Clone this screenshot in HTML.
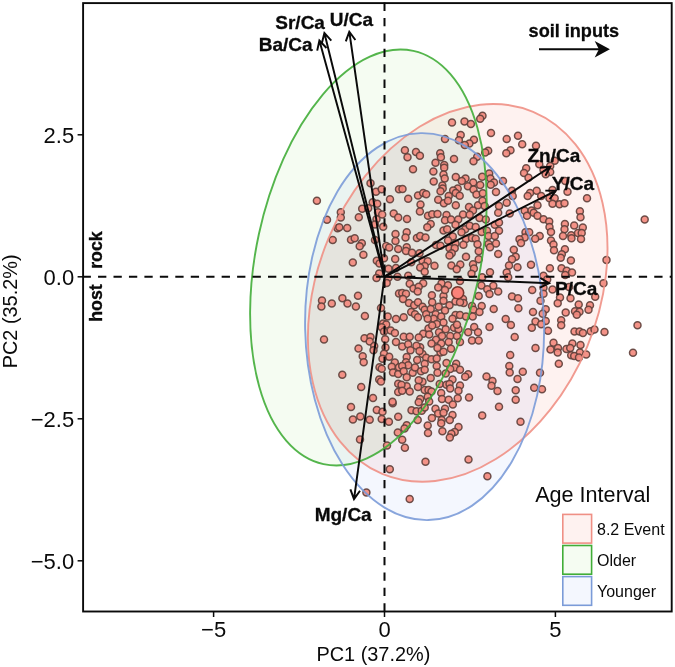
<!DOCTYPE html>
<html lang="en"><head><meta charset="utf-8"><title>PCA biplot</title>
<style>html,body{margin:0;padding:0;background:#fff}body{width:675px;height:667px;overflow:hidden}svg{display:block}text{font-family:"Liberation Sans",Arial,Helvetica,sans-serif;fill:#0a0a0a}.b{font-weight:bold;font-size:19px;stroke:#0a0a0a;stroke-width:0.3px}.t{font-size:22px}.a{font-size:19.9px}.l{font-size:16px}</style></head><body>
<svg width="675" height="667" viewBox="0 0 675 667">
<rect width="675" height="667" fill="#fff"/>
<g>
<ellipse cx="457.7" cy="292.9" rx="196.1" ry="140.2" transform="rotate(112.62 457.7 292.9)" fill="rgba(248,118,95,0.095)" stroke="none"/>
<ellipse cx="368.4" cy="257.5" rx="211.4" ry="112.0" transform="rotate(102.26 368.4 257.5)" fill="rgba(112,208,62,0.065)" stroke="none"/>
<ellipse cx="424.6" cy="326.6" rx="193.5" ry="119.5" transform="rotate(88.87 424.6 326.6)" fill="rgba(100,135,240,0.07)" stroke="none"/>
</g>
<defs><clipPath id="cg"><ellipse cx="368.4" cy="257.5" rx="211.4" ry="112.0" transform="rotate(102.26 368.4 257.5)" /></clipPath><clipPath id="cb" clip-path="url(#cg)"><ellipse cx="424.6" cy="326.6" rx="193.5" ry="119.5" transform="rotate(88.87 424.6 326.6)" /></clipPath></defs>
<g clip-path="url(#cb)"><ellipse cx="457.7" cy="292.9" rx="196.1" ry="140.2" transform="rotate(112.62 457.7 292.9)" fill="rgba(130,140,90,0.035)"/></g>
<g fill="#f38a7e" fill-opacity="0.92" stroke="#5e3f3a" stroke-opacity="0.9" stroke-width="1.5">
<circle cx="316.9" cy="200.7" r="3.5"/>
<circle cx="327.0" cy="219.7" r="3.5"/>
<circle cx="340.8" cy="212.2" r="3.5"/>
<circle cx="340.8" cy="217.5" r="3.5"/>
<circle cx="337.5" cy="228.3" r="3.5"/>
<circle cx="339.3" cy="227.2" r="3.5"/>
<circle cx="347.2" cy="228.0" r="3.5"/>
<circle cx="332.7" cy="240.1" r="3.5"/>
<circle cx="351.0" cy="239.7" r="3.5"/>
<circle cx="354.7" cy="238.2" r="3.5"/>
<circle cx="361.8" cy="243.3" r="3.5"/>
<circle cx="359.7" cy="246.3" r="3.5"/>
<circle cx="358.8" cy="217.2" r="3.5"/>
<circle cx="362.2" cy="208.8" r="3.5"/>
<circle cx="368.2" cy="208.2" r="3.5"/>
<circle cx="370.5" cy="183.3" r="3.5"/>
<circle cx="376.0" cy="191.7" r="3.5"/>
<circle cx="381.7" cy="189.3" r="3.5"/>
<circle cx="372.7" cy="202.2" r="3.5"/>
<circle cx="377.2" cy="203.7" r="3.5"/>
<circle cx="390.0" cy="199.2" r="3.5"/>
<circle cx="378.0" cy="212.2" r="3.5"/>
<circle cx="382.2" cy="214.5" r="3.5"/>
<circle cx="393.7" cy="213.4" r="3.5"/>
<circle cx="398.2" cy="217.5" r="3.5"/>
<circle cx="376.5" cy="219.3" r="3.5"/>
<circle cx="375.0" cy="224.5" r="3.5"/>
<circle cx="383.2" cy="226.8" r="3.5"/>
<circle cx="395.5" cy="234.0" r="3.5"/>
<circle cx="395.5" cy="241.0" r="3.5"/>
<circle cx="375.0" cy="240.0" r="3.5"/>
<circle cx="386.2" cy="246.0" r="3.5"/>
<circle cx="389.2" cy="247.5" r="3.5"/>
<circle cx="399.0" cy="189.3" r="3.5"/>
<circle cx="398.2" cy="249.0" r="3.5"/>
<circle cx="363.4" cy="254.8" r="3.5"/>
<circle cx="352.8" cy="262.4" r="3.5"/>
<circle cx="376.8" cy="260.8" r="3.5"/>
<circle cx="384.0" cy="258.2" r="3.5"/>
<circle cx="395.2" cy="259.0" r="3.5"/>
<circle cx="379.5" cy="263.5" r="3.5"/>
<circle cx="388.5" cy="268.7" r="3.5"/>
<circle cx="396.0" cy="268.0" r="3.5"/>
<circle cx="379.2" cy="273.5" r="3.5"/>
<circle cx="376.5" cy="278.0" r="3.5"/>
<circle cx="388.5" cy="277.7" r="3.5"/>
<circle cx="397.5" cy="276.7" r="3.5"/>
<circle cx="386.7" cy="283.0" r="3.5"/>
<circle cx="399.0" cy="293.5" r="3.5"/>
<circle cx="322.0" cy="300.5" r="3.5"/>
<circle cx="321.4" cy="306.5" r="3.5"/>
<circle cx="331.8" cy="303.5" r="3.5"/>
<circle cx="342.4" cy="298.3" r="3.5"/>
<circle cx="347.5" cy="303.5" r="3.5"/>
<circle cx="358.0" cy="295.7" r="3.5"/>
<circle cx="355.9" cy="306.5" r="3.5"/>
<circle cx="364.9" cy="316.0" r="3.5"/>
<circle cx="381.0" cy="308.0" r="3.5"/>
<circle cx="387.7" cy="316.4" r="3.5"/>
<circle cx="396.0" cy="319.0" r="3.5"/>
<circle cx="383.2" cy="323.5" r="3.5"/>
<circle cx="386.2" cy="324.5" r="3.5"/>
<circle cx="381.7" cy="327.2" r="3.5"/>
<circle cx="384.0" cy="331.4" r="3.5"/>
<circle cx="390.7" cy="330.5" r="3.5"/>
<circle cx="394.9" cy="332.9" r="3.5"/>
<circle cx="324.0" cy="339.5" r="3.5"/>
<circle cx="364.5" cy="338.2" r="3.5"/>
<circle cx="370.5" cy="337.0" r="3.5"/>
<circle cx="369.7" cy="341.5" r="3.5"/>
<circle cx="385.2" cy="339.2" r="3.5"/>
<circle cx="396.0" cy="341.9" r="3.5"/>
<circle cx="358.5" cy="348.5" r="3.5"/>
<circle cx="374.2" cy="346.0" r="3.5"/>
<circle cx="385.5" cy="347.5" r="3.5"/>
<circle cx="373.5" cy="350.3" r="3.5"/>
<circle cx="362.7" cy="356.3" r="3.5"/>
<circle cx="363.7" cy="362.3" r="3.5"/>
<circle cx="384.0" cy="353.7" r="3.5"/>
<circle cx="389.2" cy="356.7" r="3.5"/>
<circle cx="382.5" cy="358.7" r="3.5"/>
<circle cx="394.8" cy="362.4" r="3.5"/>
<circle cx="379.5" cy="367.2" r="3.5"/>
<circle cx="381.7" cy="368.7" r="3.5"/>
<circle cx="391.8" cy="366.8" r="3.5"/>
<circle cx="393.0" cy="372.5" r="3.5"/>
<circle cx="398.2" cy="374.0" r="3.5"/>
<circle cx="399.0" cy="367.2" r="3.5"/>
<circle cx="342.3" cy="374.7" r="3.5"/>
<circle cx="379.2" cy="379.5" r="3.5"/>
<circle cx="381.0" cy="381.5" r="3.5"/>
<circle cx="361.2" cy="387.0" r="3.5"/>
<circle cx="398.2" cy="383.7" r="3.5"/>
<circle cx="398.2" cy="392.0" r="3.5"/>
<circle cx="373.0" cy="398.0" r="3.5"/>
<circle cx="392.7" cy="403.2" r="3.5"/>
<circle cx="392.5" cy="401.7" r="3.5"/>
<circle cx="351.0" cy="407.0" r="3.5"/>
<circle cx="376.8" cy="410.0" r="3.5"/>
<circle cx="382.5" cy="411.8" r="3.5"/>
<circle cx="352.9" cy="419.4" r="3.5"/>
<circle cx="360.3" cy="416.4" r="3.5"/>
<circle cx="369.7" cy="419.7" r="3.5"/>
<circle cx="381.7" cy="419.0" r="3.5"/>
<circle cx="388.9" cy="421.7" r="3.5"/>
<circle cx="398.2" cy="416.7" r="3.5"/>
<circle cx="360.0" cy="439.5" r="3.5"/>
<circle cx="387.0" cy="445.5" r="3.5"/>
<circle cx="397.8" cy="432.5" r="3.5"/>
<circle cx="389.8" cy="469.3" r="3.5"/>
<circle cx="366.4" cy="492.4" r="3.5"/>
<circle cx="482.5" cy="115.7" r="3.5"/>
<circle cx="480.2" cy="118.7" r="3.5"/>
<circle cx="452.0" cy="122.5" r="3.5"/>
<circle cx="464.5" cy="121.4" r="3.5"/>
<circle cx="470.9" cy="124.0" r="3.5"/>
<circle cx="491.0" cy="133.0" r="3.5"/>
<circle cx="460.7" cy="134.9" r="3.5"/>
<circle cx="458.9" cy="140.2" r="3.5"/>
<circle cx="445.0" cy="139.0" r="3.5"/>
<circle cx="473.9" cy="139.7" r="3.5"/>
<circle cx="469.4" cy="143.5" r="3.5"/>
<circle cx="464.8" cy="145.0" r="3.5"/>
<circle cx="488.2" cy="150.7" r="3.5"/>
<circle cx="485.2" cy="152.5" r="3.5"/>
<circle cx="404.9" cy="150.2" r="3.5"/>
<circle cx="416.0" cy="152.0" r="3.5"/>
<circle cx="419.9" cy="155.8" r="3.5"/>
<circle cx="407.5" cy="157.3" r="3.5"/>
<circle cx="440.2" cy="153.2" r="3.5"/>
<circle cx="440.9" cy="157.3" r="3.5"/>
<circle cx="454.0" cy="158.9" r="3.5"/>
<circle cx="477.2" cy="156.7" r="3.5"/>
<circle cx="473.5" cy="161.2" r="3.5"/>
<circle cx="435.5" cy="162.7" r="3.5"/>
<circle cx="444.2" cy="164.9" r="3.5"/>
<circle cx="444.2" cy="167.8" r="3.5"/>
<circle cx="413.0" cy="169.3" r="3.5"/>
<circle cx="433.4" cy="171.5" r="3.5"/>
<circle cx="443.5" cy="174.5" r="3.5"/>
<circle cx="444.7" cy="178.4" r="3.5"/>
<circle cx="455.8" cy="176.9" r="3.5"/>
<circle cx="465.5" cy="178.4" r="3.5"/>
<circle cx="461.8" cy="181.0" r="3.5"/>
<circle cx="433.7" cy="181.4" r="3.5"/>
<circle cx="489.2" cy="173.5" r="3.5"/>
<circle cx="482.2" cy="176.8" r="3.5"/>
<circle cx="490.4" cy="178.4" r="3.5"/>
<circle cx="494.0" cy="182.5" r="3.5"/>
<circle cx="490.7" cy="184.7" r="3.5"/>
<circle cx="473.2" cy="182.5" r="3.5"/>
<circle cx="480.2" cy="185.0" r="3.5"/>
<circle cx="467.9" cy="186.2" r="3.5"/>
<circle cx="442.4" cy="185.5" r="3.5"/>
<circle cx="442.7" cy="188.5" r="3.5"/>
<circle cx="440.5" cy="191.2" r="3.5"/>
<circle cx="402.5" cy="188.9" r="3.5"/>
<circle cx="457.7" cy="188.5" r="3.5"/>
<circle cx="453.2" cy="190.4" r="3.5"/>
<circle cx="455.8" cy="193.0" r="3.5"/>
<circle cx="473.5" cy="189.5" r="3.5"/>
<circle cx="476.5" cy="194.5" r="3.5"/>
<circle cx="482.8" cy="193.3" r="3.5"/>
<circle cx="496.0" cy="191.9" r="3.5"/>
<circle cx="418.0" cy="195.5" r="3.5"/>
<circle cx="423.2" cy="193.0" r="3.5"/>
<circle cx="426.2" cy="194.2" r="3.5"/>
<circle cx="448.7" cy="196.0" r="3.5"/>
<circle cx="459.7" cy="195.7" r="3.5"/>
<circle cx="408.2" cy="198.7" r="3.5"/>
<circle cx="438.2" cy="199.7" r="3.5"/>
<circle cx="420.5" cy="204.5" r="3.5"/>
<circle cx="443.9" cy="203.3" r="3.5"/>
<circle cx="455.8" cy="205.2" r="3.5"/>
<circle cx="469.0" cy="207.0" r="3.5"/>
<circle cx="478.0" cy="205.2" r="3.5"/>
<circle cx="482.5" cy="200.7" r="3.5"/>
<circle cx="484.7" cy="206.0" r="3.5"/>
<circle cx="448.0" cy="200.7" r="3.5"/>
<circle cx="419.9" cy="211.5" r="3.5"/>
<circle cx="428.0" cy="215.7" r="3.5"/>
<circle cx="432.2" cy="214.2" r="3.5"/>
<circle cx="437.5" cy="213.9" r="3.5"/>
<circle cx="446.5" cy="215.0" r="3.5"/>
<circle cx="463.0" cy="214.5" r="3.5"/>
<circle cx="473.0" cy="210.5" r="3.5"/>
<circle cx="469.7" cy="214.7" r="3.5"/>
<circle cx="498.2" cy="212.7" r="3.5"/>
<circle cx="499.0" cy="206.0" r="3.5"/>
<circle cx="407.0" cy="219.0" r="3.5"/>
<circle cx="445.0" cy="220.2" r="3.5"/>
<circle cx="451.0" cy="219.5" r="3.5"/>
<circle cx="458.2" cy="219.5" r="3.5"/>
<circle cx="479.5" cy="218.0" r="3.5"/>
<circle cx="485.8" cy="219.5" r="3.5"/>
<circle cx="430.7" cy="224.0" r="3.5"/>
<circle cx="427.3" cy="227.3" r="3.5"/>
<circle cx="455.5" cy="224.7" r="3.5"/>
<circle cx="465.2" cy="229.2" r="3.5"/>
<circle cx="469.7" cy="225.8" r="3.5"/>
<circle cx="475.7" cy="227.0" r="3.5"/>
<circle cx="494.8" cy="224.7" r="3.5"/>
<circle cx="499.0" cy="222.5" r="3.5"/>
<circle cx="443.5" cy="230.4" r="3.5"/>
<circle cx="447.2" cy="229.2" r="3.5"/>
<circle cx="461.5" cy="232.2" r="3.5"/>
<circle cx="481.7" cy="231.9" r="3.5"/>
<circle cx="487.0" cy="230.7" r="3.5"/>
<circle cx="499.0" cy="230.7" r="3.5"/>
<circle cx="406.7" cy="232.2" r="3.5"/>
<circle cx="405.5" cy="237.5" r="3.5"/>
<circle cx="416.9" cy="237.9" r="3.5"/>
<circle cx="420.2" cy="236.0" r="3.5"/>
<circle cx="425.5" cy="237.5" r="3.5"/>
<circle cx="452.8" cy="236.4" r="3.5"/>
<circle cx="448.0" cy="240.5" r="3.5"/>
<circle cx="466.0" cy="239.0" r="3.5"/>
<circle cx="472.0" cy="237.9" r="3.5"/>
<circle cx="475.7" cy="238.7" r="3.5"/>
<circle cx="488.5" cy="236.0" r="3.5"/>
<circle cx="494.8" cy="236.0" r="3.5"/>
<circle cx="436.0" cy="245.0" r="3.5"/>
<circle cx="440.5" cy="245.7" r="3.5"/>
<circle cx="455.5" cy="243.5" r="3.5"/>
<circle cx="463.4" cy="244.7" r="3.5"/>
<circle cx="477.5" cy="244.2" r="3.5"/>
<circle cx="488.5" cy="243.9" r="3.5"/>
<circle cx="496.0" cy="243.5" r="3.5"/>
<circle cx="490.0" cy="247.2" r="3.5"/>
<circle cx="406.7" cy="247.2" r="3.5"/>
<circle cx="406.0" cy="251.0" r="3.5"/>
<circle cx="412.0" cy="252.8" r="3.5"/>
<circle cx="419.5" cy="253.2" r="3.5"/>
<circle cx="449.5" cy="248.3" r="3.5"/>
<circle cx="454.7" cy="248.3" r="3.5"/>
<circle cx="451.7" cy="253.2" r="3.5"/>
<circle cx="449.5" cy="255.5" r="3.5"/>
<circle cx="478.7" cy="251.3" r="3.5"/>
<circle cx="498.2" cy="254.0" r="3.5"/>
<circle cx="466.0" cy="256.7" r="3.5"/>
<circle cx="478.7" cy="259.2" r="3.5"/>
<circle cx="422.5" cy="260.7" r="3.5"/>
<circle cx="427.7" cy="261.2" r="3.5"/>
<circle cx="411.2" cy="262.2" r="3.5"/>
<circle cx="451.4" cy="265.5" r="3.5"/>
<circle cx="460.3" cy="264.5" r="3.5"/>
<circle cx="473.0" cy="264.2" r="3.5"/>
<circle cx="456.7" cy="269.3" r="3.5"/>
<circle cx="473.9" cy="268.5" r="3.5"/>
<circle cx="434.5" cy="265.7" r="3.5"/>
<circle cx="424.7" cy="266.0" r="3.5"/>
<circle cx="420.2" cy="267.5" r="3.5"/>
<circle cx="424.7" cy="271.7" r="3.5"/>
<circle cx="408.2" cy="275.7" r="3.5"/>
<circle cx="490.0" cy="272.3" r="3.5"/>
<circle cx="471.5" cy="273.8" r="3.5"/>
<circle cx="482.2" cy="277.2" r="3.5"/>
<circle cx="423.2" cy="283.2" r="3.5"/>
<circle cx="409.7" cy="283.7" r="3.5"/>
<circle cx="413.5" cy="288.5" r="3.5"/>
<circle cx="418.7" cy="286.7" r="3.5"/>
<circle cx="441.5" cy="283.2" r="3.5"/>
<circle cx="448.0" cy="285.2" r="3.5"/>
<circle cx="460.0" cy="281.0" r="3.5"/>
<circle cx="438.2" cy="287.4" r="3.5"/>
<circle cx="481.4" cy="285.5" r="3.5"/>
<circle cx="493.3" cy="285.8" r="3.5"/>
<circle cx="487.3" cy="289.2" r="3.5"/>
<circle cx="402.2" cy="293.0" r="3.5"/>
<circle cx="406.0" cy="293.7" r="3.5"/>
<circle cx="417.7" cy="291.5" r="3.5"/>
<circle cx="431.9" cy="295.2" r="3.5"/>
<circle cx="443.5" cy="296.0" r="3.5"/>
<circle cx="445.0" cy="290.0" r="3.5"/>
<circle cx="478.7" cy="296.0" r="3.5"/>
<circle cx="489.5" cy="294.0" r="3.5"/>
<circle cx="498.2" cy="291.5" r="3.5"/>
<circle cx="403.0" cy="299.0" r="3.5"/>
<circle cx="463.0" cy="299.0" r="3.5"/>
<circle cx="409.0" cy="303.0" r="3.5"/>
<circle cx="414.2" cy="305.2" r="3.5"/>
<circle cx="418.0" cy="302.2" r="3.5"/>
<circle cx="422.5" cy="306.7" r="3.5"/>
<circle cx="424.7" cy="309.7" r="3.5"/>
<circle cx="432.2" cy="302.2" r="3.5"/>
<circle cx="430.7" cy="309.0" r="3.5"/>
<circle cx="438.7" cy="306.7" r="3.5"/>
<circle cx="443.5" cy="300.7" r="3.5"/>
<circle cx="449.5" cy="305.2" r="3.5"/>
<circle cx="445.0" cy="310.5" r="3.5"/>
<circle cx="455.5" cy="301.5" r="3.5"/>
<circle cx="463.7" cy="303.0" r="3.5"/>
<circle cx="460.0" cy="302.2" r="3.5"/>
<circle cx="472.0" cy="306.0" r="3.5"/>
<circle cx="481.7" cy="306.0" r="3.5"/>
<circle cx="493.7" cy="309.0" r="3.5"/>
<circle cx="473.5" cy="309.7" r="3.5"/>
<circle cx="411.2" cy="312.0" r="3.5"/>
<circle cx="415.0" cy="314.2" r="3.5"/>
<circle cx="403.7" cy="317.2" r="3.5"/>
<circle cx="418.0" cy="317.2" r="3.5"/>
<circle cx="426.2" cy="314.2" r="3.5"/>
<circle cx="435.7" cy="314.2" r="3.5"/>
<circle cx="441.2" cy="316.5" r="3.5"/>
<circle cx="433.7" cy="318.7" r="3.5"/>
<circle cx="455.5" cy="315.0" r="3.5"/>
<circle cx="452.5" cy="318.7" r="3.5"/>
<circle cx="460.0" cy="315.0" r="3.5"/>
<circle cx="466.0" cy="316.5" r="3.5"/>
<circle cx="472.7" cy="316.5" r="3.5"/>
<circle cx="479.5" cy="312.0" r="3.5"/>
<circle cx="427.7" cy="318.7" r="3.5"/>
<circle cx="443.5" cy="322.5" r="3.5"/>
<circle cx="436.7" cy="324.0" r="3.5"/>
<circle cx="428.5" cy="328.5" r="3.5"/>
<circle cx="432.2" cy="325.5" r="3.5"/>
<circle cx="445.7" cy="329.2" r="3.5"/>
<circle cx="454.0" cy="327.7" r="3.5"/>
<circle cx="458.5" cy="329.2" r="3.5"/>
<circle cx="457.0" cy="324.7" r="3.5"/>
<circle cx="468.2" cy="332.2" r="3.5"/>
<circle cx="474.2" cy="327.0" r="3.5"/>
<circle cx="478.0" cy="332.2" r="3.5"/>
<circle cx="489.5" cy="327.0" r="3.5"/>
<circle cx="423.2" cy="333.7" r="3.5"/>
<circle cx="429.2" cy="334.5" r="3.5"/>
<circle cx="439.0" cy="332.2" r="3.5"/>
<circle cx="403.7" cy="336.7" r="3.5"/>
<circle cx="409.7" cy="336.7" r="3.5"/>
<circle cx="418.7" cy="337.5" r="3.5"/>
<circle cx="442.0" cy="336.0" r="3.5"/>
<circle cx="450.2" cy="336.0" r="3.5"/>
<circle cx="457.0" cy="336.0" r="3.5"/>
<circle cx="436.0" cy="339.7" r="3.5"/>
<circle cx="448.7" cy="342.0" r="3.5"/>
<circle cx="472.0" cy="340.5" r="3.5"/>
<circle cx="478.7" cy="340.5" r="3.5"/>
<circle cx="460.0" cy="342.0" r="3.5"/>
<circle cx="431.5" cy="343.5" r="3.5"/>
<circle cx="441.2" cy="343.5" r="3.5"/>
<circle cx="402.2" cy="346.5" r="3.5"/>
<circle cx="408.2" cy="344.2" r="3.5"/>
<circle cx="420.2" cy="347.2" r="3.5"/>
<circle cx="416.5" cy="345.7" r="3.5"/>
<circle cx="410.5" cy="350.2" r="3.5"/>
<circle cx="451.0" cy="348.7" r="3.5"/>
<circle cx="440.5" cy="352.5" r="3.5"/>
<circle cx="437.5" cy="348.0" r="3.5"/>
<circle cx="443.5" cy="351.7" r="3.5"/>
<circle cx="422.5" cy="354.0" r="3.5"/>
<circle cx="419.5" cy="351.0" r="3.5"/>
<circle cx="406.7" cy="357.0" r="3.5"/>
<circle cx="417.2" cy="360.0" r="3.5"/>
<circle cx="426.2" cy="357.7" r="3.5"/>
<circle cx="431.5" cy="359.2" r="3.5"/>
<circle cx="436.7" cy="358.5" r="3.5"/>
<circle cx="406.0" cy="362.2" r="3.5"/>
<circle cx="408.2" cy="365.2" r="3.5"/>
<circle cx="424.7" cy="363.7" r="3.5"/>
<circle cx="446.5" cy="363.0" r="3.5"/>
<circle cx="436.7" cy="366.0" r="3.5"/>
<circle cx="456.2" cy="363.7" r="3.5"/>
<circle cx="454.7" cy="367.5" r="3.5"/>
<circle cx="460.0" cy="369.7" r="3.5"/>
<circle cx="450.2" cy="369.0" r="3.5"/>
<circle cx="402.2" cy="366.0" r="3.5"/>
<circle cx="403.7" cy="371.2" r="3.5"/>
<circle cx="412.7" cy="372.7" r="3.5"/>
<circle cx="415.0" cy="367.5" r="3.5"/>
<circle cx="421.0" cy="371.2" r="3.5"/>
<circle cx="424.7" cy="369.7" r="3.5"/>
<circle cx="437.5" cy="372.7" r="3.5"/>
<circle cx="445.7" cy="373.5" r="3.5"/>
<circle cx="468.2" cy="374.2" r="3.5"/>
<circle cx="465.2" cy="376.8" r="3.5"/>
<circle cx="406.7" cy="377.2" r="3.5"/>
<circle cx="430.7" cy="378.0" r="3.5"/>
<circle cx="486.5" cy="376.5" r="3.5"/>
<circle cx="492.5" cy="381.0" r="3.5"/>
<circle cx="422.5" cy="381.7" r="3.5"/>
<circle cx="418.7" cy="380.2" r="3.5"/>
<circle cx="452.5" cy="379.5" r="3.5"/>
<circle cx="439.7" cy="384.0" r="3.5"/>
<circle cx="446.5" cy="384.7" r="3.5"/>
<circle cx="449.5" cy="384.0" r="3.5"/>
<circle cx="460.0" cy="385.5" r="3.5"/>
<circle cx="450.2" cy="388.5" r="3.5"/>
<circle cx="458.5" cy="390.7" r="3.5"/>
<circle cx="406.7" cy="386.2" r="3.5"/>
<circle cx="401.5" cy="384.7" r="3.5"/>
<circle cx="418.0" cy="387.0" r="3.5"/>
<circle cx="402.2" cy="390.7" r="3.5"/>
<circle cx="409.7" cy="391.5" r="3.5"/>
<circle cx="424.7" cy="390.0" r="3.5"/>
<circle cx="428.5" cy="390.0" r="3.5"/>
<circle cx="431.5" cy="391.5" r="3.5"/>
<circle cx="441.2" cy="393.0" r="3.5"/>
<circle cx="491.5" cy="385.8" r="3.5"/>
<circle cx="497.5" cy="391.0" r="3.5"/>
<circle cx="457.7" cy="398.2" r="3.5"/>
<circle cx="469.0" cy="397.5" r="3.5"/>
<circle cx="420.2" cy="399.0" r="3.5"/>
<circle cx="427.7" cy="396.7" r="3.5"/>
<circle cx="442.0" cy="399.0" r="3.5"/>
<circle cx="448.7" cy="399.7" r="3.5"/>
<circle cx="418.7" cy="402.2" r="3.5"/>
<circle cx="429.2" cy="401.5" r="3.5"/>
<circle cx="452.8" cy="404.5" r="3.5"/>
<circle cx="445.0" cy="408.7" r="3.5"/>
<circle cx="435.5" cy="408.7" r="3.5"/>
<circle cx="411.5" cy="410.2" r="3.5"/>
<circle cx="416.5" cy="411.2" r="3.5"/>
<circle cx="421.7" cy="410.8" r="3.5"/>
<circle cx="424.7" cy="407.5" r="3.5"/>
<circle cx="438.2" cy="413.5" r="3.5"/>
<circle cx="443.5" cy="412.7" r="3.5"/>
<circle cx="452.5" cy="415.0" r="3.5"/>
<circle cx="417.7" cy="419.9" r="3.5"/>
<circle cx="431.9" cy="418.0" r="3.5"/>
<circle cx="441.7" cy="419.9" r="3.5"/>
<circle cx="449.8" cy="419.9" r="3.5"/>
<circle cx="441.2" cy="423.2" r="3.5"/>
<circle cx="482.2" cy="415.4" r="3.5"/>
<circle cx="499.0" cy="406.7" r="3.5"/>
<circle cx="427.7" cy="425.5" r="3.5"/>
<circle cx="406.7" cy="425.2" r="3.5"/>
<circle cx="404.5" cy="428.5" r="3.5"/>
<circle cx="458.5" cy="427.0" r="3.5"/>
<circle cx="442.4" cy="431.2" r="3.5"/>
<circle cx="428.0" cy="433.0" r="3.5"/>
<circle cx="454.7" cy="431.9" r="3.5"/>
<circle cx="451.4" cy="433.7" r="3.5"/>
<circle cx="449.8" cy="437.5" r="3.5"/>
<circle cx="402.2" cy="439.7" r="3.5"/>
<circle cx="404.9" cy="447.7" r="3.5"/>
<circle cx="425.5" cy="461.8" r="3.5"/>
<circle cx="468.5" cy="459.5" r="3.5"/>
<circle cx="487.4" cy="476.2" r="3.5"/>
<circle cx="409.7" cy="499.0" r="3.5"/>
<circle cx="506.7" cy="139.0" r="3.5"/>
<circle cx="518.0" cy="135.7" r="3.5"/>
<circle cx="522.2" cy="144.2" r="3.5"/>
<circle cx="510.5" cy="150.2" r="3.5"/>
<circle cx="506.3" cy="153.2" r="3.5"/>
<circle cx="536.0" cy="145.7" r="3.5"/>
<circle cx="554.7" cy="160.7" r="3.5"/>
<circle cx="539.3" cy="164.2" r="3.5"/>
<circle cx="526.2" cy="168.2" r="3.5"/>
<circle cx="524.0" cy="173.0" r="3.5"/>
<circle cx="543.5" cy="169.7" r="3.5"/>
<circle cx="550.2" cy="166.0" r="3.5"/>
<circle cx="550.2" cy="172.0" r="3.5"/>
<circle cx="545.7" cy="174.2" r="3.5"/>
<circle cx="528.5" cy="177.7" r="3.5"/>
<circle cx="565.2" cy="181.0" r="3.5"/>
<circle cx="503.0" cy="181.0" r="3.5"/>
<circle cx="512.0" cy="190.7" r="3.5"/>
<circle cx="536.7" cy="190.7" r="3.5"/>
<circle cx="530.0" cy="193.0" r="3.5"/>
<circle cx="527.7" cy="196.0" r="3.5"/>
<circle cx="541.2" cy="196.0" r="3.5"/>
<circle cx="552.5" cy="190.0" r="3.5"/>
<circle cx="567.5" cy="191.8" r="3.5"/>
<circle cx="549.5" cy="198.2" r="3.5"/>
<circle cx="554.7" cy="198.2" r="3.5"/>
<circle cx="587.0" cy="198.2" r="3.5"/>
<circle cx="512.7" cy="196.0" r="3.5"/>
<circle cx="506.7" cy="202.7" r="3.5"/>
<circle cx="509.7" cy="213.5" r="3.5"/>
<circle cx="537.5" cy="205.2" r="3.5"/>
<circle cx="552.5" cy="203.7" r="3.5"/>
<circle cx="559.5" cy="204.2" r="3.5"/>
<circle cx="564.5" cy="203.3" r="3.5"/>
<circle cx="524.7" cy="210.8" r="3.5"/>
<circle cx="527.0" cy="215.7" r="3.5"/>
<circle cx="531.5" cy="210.5" r="3.5"/>
<circle cx="533.7" cy="212.7" r="3.5"/>
<circle cx="537.5" cy="215.7" r="3.5"/>
<circle cx="543.5" cy="219.2" r="3.5"/>
<circle cx="549.2" cy="221.4" r="3.5"/>
<circle cx="579.9" cy="211.2" r="3.5"/>
<circle cx="580.5" cy="217.2" r="3.5"/>
<circle cx="549.5" cy="227.0" r="3.5"/>
<circle cx="551.0" cy="231.9" r="3.5"/>
<circle cx="564.9" cy="224.0" r="3.5"/>
<circle cx="564.5" cy="229.2" r="3.5"/>
<circle cx="574.2" cy="225.5" r="3.5"/>
<circle cx="582.8" cy="227.4" r="3.5"/>
<circle cx="525.5" cy="232.2" r="3.5"/>
<circle cx="529.2" cy="232.2" r="3.5"/>
<circle cx="563.0" cy="236.0" r="3.5"/>
<circle cx="571.2" cy="235.2" r="3.5"/>
<circle cx="571.5" cy="238.2" r="3.5"/>
<circle cx="578.0" cy="233.0" r="3.5"/>
<circle cx="581.7" cy="233.0" r="3.5"/>
<circle cx="581.0" cy="239.0" r="3.5"/>
<circle cx="539.7" cy="236.0" r="3.5"/>
<circle cx="535.2" cy="238.7" r="3.5"/>
<circle cx="524.7" cy="237.5" r="3.5"/>
<circle cx="519.5" cy="239.3" r="3.5"/>
<circle cx="521.0" cy="243.0" r="3.5"/>
<circle cx="551.0" cy="240.5" r="3.5"/>
<circle cx="553.5" cy="244.5" r="3.5"/>
<circle cx="554.0" cy="250.2" r="3.5"/>
<circle cx="564.9" cy="249.2" r="3.5"/>
<circle cx="561.8" cy="254.3" r="3.5"/>
<circle cx="560.7" cy="257.7" r="3.5"/>
<circle cx="513.8" cy="249.8" r="3.5"/>
<circle cx="515.7" cy="256.7" r="3.5"/>
<circle cx="512.0" cy="259.2" r="3.5"/>
<circle cx="570.9" cy="260.4" r="3.5"/>
<circle cx="509.0" cy="265.5" r="3.5"/>
<circle cx="517.5" cy="267.2" r="3.5"/>
<circle cx="531.0" cy="264.8" r="3.5"/>
<circle cx="549.9" cy="268.2" r="3.5"/>
<circle cx="561.5" cy="268.2" r="3.5"/>
<circle cx="566.7" cy="270.8" r="3.5"/>
<circle cx="572.0" cy="272.4" r="3.5"/>
<circle cx="565.2" cy="275.0" r="3.5"/>
<circle cx="506.7" cy="272.4" r="3.5"/>
<circle cx="508.2" cy="277.2" r="3.5"/>
<circle cx="543.5" cy="275.7" r="3.5"/>
<circle cx="532.2" cy="290.0" r="3.5"/>
<circle cx="543.5" cy="287.7" r="3.5"/>
<circle cx="552.5" cy="289.5" r="3.5"/>
<circle cx="569.0" cy="287.0" r="3.5"/>
<circle cx="543.5" cy="293.7" r="3.5"/>
<circle cx="512.0" cy="296.4" r="3.5"/>
<circle cx="518.0" cy="298.2" r="3.5"/>
<circle cx="560.0" cy="297.5" r="3.5"/>
<circle cx="570.5" cy="298.2" r="3.5"/>
<circle cx="595.2" cy="296.7" r="3.5"/>
<circle cx="547.2" cy="279.5" r="3.5"/>
<circle cx="540.5" cy="300.7" r="3.5"/>
<circle cx="557.7" cy="303.3" r="3.5"/>
<circle cx="578.7" cy="304.5" r="3.5"/>
<circle cx="590.0" cy="305.2" r="3.5"/>
<circle cx="588.5" cy="309.7" r="3.5"/>
<circle cx="518.4" cy="308.2" r="3.5"/>
<circle cx="545.7" cy="309.3" r="3.5"/>
<circle cx="533.0" cy="312.0" r="3.5"/>
<circle cx="542.7" cy="313.8" r="3.5"/>
<circle cx="565.7" cy="312.4" r="3.5"/>
<circle cx="575.0" cy="311.2" r="3.5"/>
<circle cx="579.5" cy="311.7" r="3.5"/>
<circle cx="576.8" cy="314.7" r="3.5"/>
<circle cx="505.7" cy="319.0" r="3.5"/>
<circle cx="510.9" cy="325.0" r="3.5"/>
<circle cx="535.5" cy="321.4" r="3.5"/>
<circle cx="545.7" cy="321.0" r="3.5"/>
<circle cx="541.2" cy="324.3" r="3.5"/>
<circle cx="531.8" cy="327.7" r="3.5"/>
<circle cx="561.2" cy="320.2" r="3.5"/>
<circle cx="561.2" cy="325.2" r="3.5"/>
<circle cx="548.0" cy="330.7" r="3.5"/>
<circle cx="574.5" cy="331.5" r="3.5"/>
<circle cx="579.5" cy="331.5" r="3.5"/>
<circle cx="582.9" cy="333.0" r="3.5"/>
<circle cx="590.7" cy="331.2" r="3.5"/>
<circle cx="594.5" cy="329.5" r="3.5"/>
<circle cx="514.7" cy="337.0" r="3.5"/>
<circle cx="553.5" cy="342.7" r="3.5"/>
<circle cx="572.4" cy="343.5" r="3.5"/>
<circle cx="580.5" cy="345.0" r="3.5"/>
<circle cx="535.5" cy="348.0" r="3.5"/>
<circle cx="550.5" cy="349.5" r="3.5"/>
<circle cx="558.0" cy="348.0" r="3.5"/>
<circle cx="557.7" cy="352.5" r="3.5"/>
<circle cx="566.4" cy="349.0" r="3.5"/>
<circle cx="570.2" cy="348.0" r="3.5"/>
<circle cx="579.9" cy="352.5" r="3.5"/>
<circle cx="586.2" cy="354.4" r="3.5"/>
<circle cx="571.2" cy="355.2" r="3.5"/>
<circle cx="574.2" cy="355.9" r="3.5"/>
<circle cx="579.0" cy="357.4" r="3.5"/>
<circle cx="510.2" cy="355.0" r="3.5"/>
<circle cx="558.8" cy="363.7" r="3.5"/>
<circle cx="509.3" cy="366.0" r="3.5"/>
<circle cx="509.7" cy="372.4" r="3.5"/>
<circle cx="522.8" cy="371.7" r="3.5"/>
<circle cx="540.0" cy="372.7" r="3.5"/>
<circle cx="517.5" cy="379.0" r="3.5"/>
<circle cx="515.7" cy="390.3" r="3.5"/>
<circle cx="534.2" cy="387.7" r="3.5"/>
<circle cx="542.0" cy="389.2" r="3.5"/>
<circle cx="515.7" cy="399.7" r="3.5"/>
<circle cx="520.5" cy="421.7" r="3.5"/>
<circle cx="606.5" cy="259.9" r="3.5"/>
<circle cx="644.7" cy="219.4" r="3.5"/>
<circle cx="603.5" cy="283.3" r="3.5"/>
<circle cx="604.5" cy="332.0" r="3.5"/>
<circle cx="637.5" cy="325.3" r="3.5"/>
<circle cx="633.0" cy="352.7" r="3.5"/>
</g>
<g fill="none" stroke-width="1.9" stroke-opacity="0.9">
<ellipse cx="457.7" cy="292.9" rx="196.1" ry="140.2" transform="rotate(112.62 457.7 292.9)" stroke="#ef9085"/>
<ellipse cx="368.4" cy="257.5" rx="211.4" ry="112.0" transform="rotate(102.26 368.4 257.5)" stroke="#41ad38"/>
<ellipse cx="424.6" cy="326.6" rx="193.5" ry="119.5" transform="rotate(88.87 424.6 326.6)" stroke="#7b9bd8"/>
</g>
<g stroke="#0a0a0a" stroke-width="2" stroke-dasharray="8.3 7.15" fill="none">
<path d="M82.6,276.8H671.7"/>
<path d="M384.5,2.6V611.5" stroke-dasharray="8.3 7.1"/>
</g>
<path d="M384.5,276.8L324.4,32.9M331.3,40.6L324.4,32.9L321.9,42.9" fill="none" stroke="#0a0a0a" stroke-width="1.95" stroke-linejoin="miter" stroke-linecap="butt"/>
<path d="M384.5,276.8L319.4,40.6M326.5,48.0L319.4,40.6L317.2,50.6" fill="none" stroke="#0a0a0a" stroke-width="1.95" stroke-linejoin="miter" stroke-linecap="butt"/>
<path d="M384.5,276.8L349.3,31.7M355.4,40.0L349.3,31.7L345.8,41.4" fill="none" stroke="#0a0a0a" stroke-width="1.95" stroke-linejoin="miter" stroke-linecap="butt"/>
<path d="M384.5,276.8L550.3,166.7M545.4,175.7L550.3,166.7L540.0,167.7" fill="none" stroke="#0a0a0a" stroke-width="1.95" stroke-linejoin="miter" stroke-linecap="butt"/>
<path d="M384.5,276.8L555.6,190.8M549.7,199.2L555.6,190.8L545.3,190.6" fill="none" stroke="#0a0a0a" stroke-width="1.95" stroke-linejoin="miter" stroke-linecap="butt"/>
<path d="M384.5,276.8L549.2,283.2M539.9,287.6L549.2,283.2L540.3,278.0" fill="none" stroke="#0a0a0a" stroke-width="1.95" stroke-linejoin="miter" stroke-linecap="butt"/>
<path d="M384.5,276.8L354.0,499.1M350.4,489.4L354.0,499.1L360.0,490.8" fill="none" stroke="#0a0a0a" stroke-width="1.95" stroke-linejoin="miter" stroke-linecap="butt"/>
<circle cx="457.7" cy="292.7" r="6.0" fill="#fa8279" stroke="#74362d" stroke-width="1.6"/>
<rect x="83.1" y="3.1" width="588.6" height="608.4" fill="none" stroke="#0a0a0a" stroke-width="1.9"/>
<g stroke="#0a0a0a" stroke-width="1.5">
<path d="M77.6,134.8H83"/>
<path d="M77.6,276.8H83"/>
<path d="M77.6,418.8H83"/>
<path d="M77.6,560.8H83"/>
<path d="M213.6,611.5V617"/>
<path d="M384.5,611.5V617"/>
<path d="M555.4,611.5V617"/>
</g>
<g class="t">
<text x="74.2" y="143.4" text-anchor="end">2.5</text>
<text x="74.2" y="285.4" text-anchor="end">0.0</text>
<text x="74.2" y="427.4" text-anchor="end">−2.5</text>
<text x="74.2" y="569.4" text-anchor="end">−5.0</text>
<text x="213.6" y="636.6" text-anchor="middle">−5</text>
<text x="384.5" y="636.6" text-anchor="middle">0</text>
<text x="555.4" y="636.6" text-anchor="middle">5</text>
</g>
<text class="a" x="373.4" y="661.0" text-anchor="middle">PC1 (37.2%)</text>
<text class="a" transform="translate(17.2 311.4) rotate(-90)" text-anchor="middle">PC2 (35.2%)</text>
<g class="b">
<text x="275.3" y="29.3">Sr/Ca</text>
<text x="329.8" y="26.4">U/Ca</text>
<text x="258.7" y="51.4">Ba/Ca</text>
<text x="527.5" y="161.5">Zn/Ca</text>
<text x="551.8" y="190.3">Y/Ca</text>
<text x="555.0" y="294.9">P/Ca</text>
<text x="314.7" y="521.0">Mg/Ca</text>
</g>
<text x="528.6" y="37" style="font-weight:bold;font-size:18.1px;stroke:#0a0a0a;stroke-width:0.3px">soil inputs</text>
<path d="M539,49.3H600" stroke="#0a0a0a" stroke-width="1.9" fill="none"/>
<path d="M609.9,49.3L594.7,41.1L598.9,49.3L594.7,57.6Z" fill="#0a0a0a"/>
<text transform="translate(101.9 321.8) rotate(-90)" style="font-weight:bold;font-size:17.8px;stroke:#0a0a0a;stroke-width:0.35px"><tspan>host</tspan><tspan dx="15.4">rock</tspan></text>
<text x="535.2" y="502.2" style="font-size:21.6px">Age Interval</text>
<rect x="562.8" y="514.4" width="28.8" height="28.7" fill="rgba(248,118,95,0.095)" stroke="#ef9085" stroke-width="1.6"/>
<text class="l" x="597" y="534.8">8.2 Event</text>
<rect x="562.8" y="545.5" width="28.8" height="28.7" fill="rgba(112,208,62,0.065)" stroke="#41ad38" stroke-width="1.6"/>
<text class="l" x="597" y="565.7">Older</text>
<rect x="562.8" y="576.6" width="28.8" height="28.7" fill="rgba(100,135,240,0.07)" stroke="#7b9bd8" stroke-width="1.6"/>
<text class="l" x="597" y="596.6">Younger</text>
</svg></body></html>
